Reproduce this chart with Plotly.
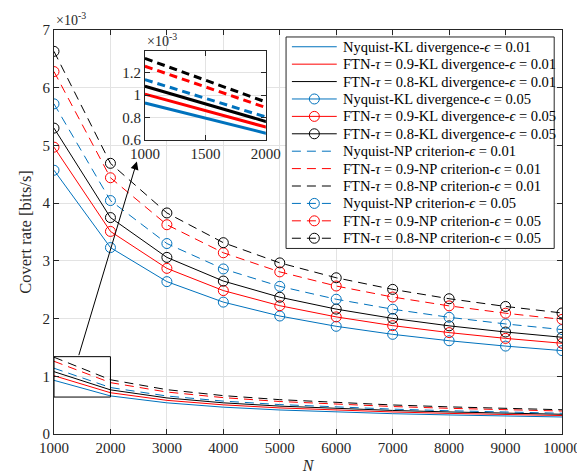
import plotly.graph_objects as go

N = [1000, 2000, 3000, 4000, 5000, 6000, 7000, 8000, 9000, 10000]

# epsilon = 0.01 (values x 1e-3)
nyq_kl_001 = [0.93, 0.66, 0.54, 0.465, 0.416, 0.38, 0.352, 0.33, 0.31, 0.295]
ftn09_kl_001 = [1.01, 0.715, 0.583, 0.505, 0.452, 0.412, 0.382, 0.357, 0.337, 0.32]
ftn08_kl_001 = [1.08, 0.765, 0.625, 0.54, 0.483, 0.441, 0.408, 0.382, 0.36, 0.342]
nyq_np_001 = [1.14, 0.805, 0.658, 0.57, 0.51, 0.465, 0.431, 0.403, 0.38, 0.36]
ftn09_np_001 = [1.26, 0.89, 0.727, 0.63, 0.563, 0.514, 0.476, 0.445, 0.42, 0.398]
ftn08_np_001 = [1.33, 0.94, 0.768, 0.665, 0.595, 0.543, 0.503, 0.47, 0.443, 0.42]

# epsilon = 0.05
nyq_kl_005 = [4.57, 3.23, 2.64, 2.285, 2.044, 1.866, 1.727, 1.616, 1.523, 1.445]
ftn09_kl_005 = [4.97, 3.51, 2.87, 2.485, 2.223, 2.029, 1.878, 1.757, 1.657, 1.572]
ftn08_kl_005 = [5.30, 3.75, 3.06, 2.65, 2.37, 2.164, 2.003, 1.874, 1.767, 1.676]
nyq_np_005 = [5.72, 4.045, 3.30, 2.86, 2.558, 2.335, 2.162, 2.022, 1.907, 1.809]
ftn09_np_005 = [6.28, 4.44, 3.626, 3.14, 2.809, 2.564, 2.373, 2.22, 2.093, 1.986]
ftn08_np_005 = [6.63, 4.69, 3.83, 3.315, 2.965, 2.707, 2.506, 2.344, 2.21, 2.097]

x_ticks = [1000, 2000, 3000, 4000, 5000, 6000, 7000, 8000, 9000, 10000]
x_tick_labels = ["1000", "2000", "3000", "4000", "5000", "6000", "7000", "8000", "9000", "10000"]
y_ticks = [0, 1, 2, 3, 4, 5, 6, 7]
inset_x_ticks = [1000, 1500, 2000]
inset_x_labels = ["1000", "1500", "2000"]
inset_y_ticks = [0.6, 0.8, 1, 1.2]

BLUE = "#0072BD"
RED = "#FF0000"
BLACK = "#000000"
FONT = "Liberation Serif"
E = "<i>ϵ</i>"
T = "<i>τ</i>"
DASH = "9px,6px"

series = [
    (f"Nyquist-KL divergence-{E} = 0.01", nyq_kl_001, BLUE, "solid", False),
    (f"FTN-{T} = 0.9-KL divergence-{E} = 0.01", ftn09_kl_001, RED, "solid", False),
    (f"FTN-{T} = 0.8-KL divergence-{E} = 0.01", ftn08_kl_001, BLACK, "solid", False),
    (f"Nyquist-KL divergence-{E} = 0.05", nyq_kl_005, BLUE, "solid", True),
    (f"FTN-{T} = 0.9-KL divergence-{E} = 0.05", ftn09_kl_005, RED, "solid", True),
    (f"FTN-{T} = 0.8-KL divergence-{E} = 0.05", ftn08_kl_005, BLACK, "solid", True),
    (f"Nyquist-NP criterion-{E} = 0.01", nyq_np_001, BLUE, DASH, False),
    (f"FTN-{T} = 0.9-NP criterion-{E} = 0.01", ftn09_np_001, RED, DASH, False),
    (f"FTN-{T} = 0.8-NP criterion-{E} = 0.01", ftn08_np_001, BLACK, DASH, False),
    (f"Nyquist-NP criterion-{E} = 0.05", nyq_np_005, BLUE, DASH, True),
    (f"FTN-{T} = 0.9-NP criterion-{E} = 0.05", ftn09_np_005, RED, DASH, True),
    (f"FTN-{T} = 0.8-NP criterion-{E} = 0.05", ftn08_np_005, BLACK, DASH, True),
]

W, H = 585, 475
ML, MR, MT, MB = 46, 18, 22, 48
PW, PH = W - ML - MR, H - MT - MB


def px(x):
    return (x - ML) / PW


def py(y):
    return (H - MB - y) / PH


fig = go.Figure()
for name, vals, col, dash, mk in series:
    fig.add_trace(go.Scatter(
        x=N, y=vals, name=name, mode="lines+markers" if mk else "lines",
        line=dict(color=col, width=1, dash=dash),
        marker=dict(symbol="circle-open", size=10, color=col, line=dict(width=1, color=col)),
        xaxis="x", yaxis="y", showlegend=False,
    ))

for name, vals, col, dash, mk in series:
    if mk:
        continue
    fig.add_trace(go.Scatter(
        x=N, y=vals, mode="lines", showlegend=False,
        line=dict(color=col, width=3, dash="solid" if dash == "solid" else "8px,5px"),
        xaxis="x2", yaxis="y2", hoverinfo="skip",
    ))

axis_common = dict(
    showline=True, linecolor="#262626", linewidth=1, mirror="ticks",
    ticks="inside", ticklen=5, tickcolor="#262626",
    showgrid=True, gridcolor="#e3e3e3", gridwidth=1, zeroline=False,
    tickfont=dict(family=FONT, size=15, color="#262626"),
)

fig.update_layout(
    width=W, height=H,
    margin=dict(l=ML, r=MR, t=MT, b=MB),
    paper_bgcolor="white", plot_bgcolor="white",
    font=dict(family=FONT, size=15, color="#262626"),
    xaxis=dict(domain=[0, 1], range=[1000, 10000], tickvals=x_ticks, ticktext=x_tick_labels,
               title=dict(text="<i>N</i>", font=dict(family=FONT, size=16), standoff=4),
               **axis_common),
    yaxis=dict(domain=[0, 1], range=[0, 7], tickvals=y_ticks,
               title=dict(text="Covert rate [bits/s]", font=dict(family=FONT, size=16.5), standoff=6),
               **axis_common),
    xaxis2=dict(domain=[0.179, 0.417], range=[1000, 2000], tickvals=inset_x_ticks,
                ticktext=inset_x_labels, anchor="y2", **axis_common),
    yaxis2=dict(domain=[0.728, 0.949], range=[0.6, 1.4], tickvals=inset_y_ticks,
                anchor="x2", **axis_common),
    showlegend=False,
)

# white background for inset
fig.add_shape(type="rect", xref="x2", yref="y2", x0=1000, x1=2000, y0=0.6, y1=1.4,
              fillcolor="white", line=dict(width=0), layer="below")
# zoom rectangle
fig.add_shape(type="rect", xref="x", yref="y", x0=1000, x1=2000, y0=0.64, y1=1.34,
              line=dict(color="black", width=1), layer="above")

fig.add_annotation(xref="x", yref="y", axref="x", ayref="y",
                   x=2468, y=4.72, ax=1432, ay=1.34,
                   showarrow=True, arrowhead=2, arrowsize=1.6, arrowwidth=1,
                   arrowcolor="black", standoff=0, text="")

fig.add_annotation(xref="paper", yref="paper", x=0.0, y=1.0, xanchor="left", yanchor="bottom",
                   text="×10<sup>-3</sup>", showarrow=False,
                   font=dict(family=FONT, size=14, color="#262626"))
fig.add_annotation(xref="x2 domain", yref="y2 domain", x=0.0, y=1.0, xanchor="left", yanchor="bottom",
                   text="×10<sup>-3</sup>", showarrow=False,
                   font=dict(family=FONT, size=14, color="#262626"))

# legend box (drawn manually to match the compact MATLAB legend)
LX0, LX1, LY0, LY1 = 284, 559, 29, 241
fig.add_shape(type="rect", xref="paper", yref="paper",
              x0=px(LX0), x1=px(LX1), y0=py(LY1), y1=py(LY0),
              fillcolor="white", line=dict(color="#262626", width=1), layer="above")
ROW0, ROWH = 38.8, 17.45
for i, (name, vals, col, dash, mk) in enumerate(series):
    yc = ROW0 + i * ROWH
    fig.add_shape(type="line", xref="paper", yref="paper",
                  x0=px(290), x1=px(336), y0=py(yc), y1=py(yc),
                  line=dict(color=col, width=1, dash=dash), layer="above")
    if mk:
        fig.add_shape(type="circle", xref="paper", yref="paper",
                      xsizemode="pixel", ysizemode="pixel",
                      xanchor=px(313), yanchor=py(yc), x0=-5, x1=5, y0=-5, y1=5,
                      line=dict(color=col, width=1), fillcolor="rgba(0,0,0,0)", layer="above")
    fig.add_annotation(xref="paper", yref="paper", x=px(340), y=py(yc),
                       xanchor="left", yanchor="middle", text=name, showarrow=False,
                       font=dict(family=FONT, size=14.5, color="#000000"))

fig.write_html("out.html")
